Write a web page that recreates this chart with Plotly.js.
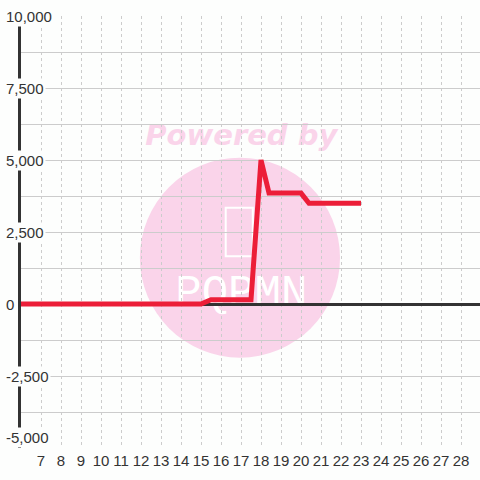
<!DOCTYPE html>
<html>
<head>
<meta charset="utf-8">
<script src="https://cdn.plot.ly/plotly-3.0.1.min.js"></script>
<style>html,body{margin:0;padding:0;background:#fdfefd;}#chart{width:480px;height:480px;}</style>
</head>
<body>
<div id="chart"></div>
<script>
// Series
const xValues = [6, 7, 8, 9, 10, 11, 12, 13, 14, 15, 15.5, 17.5, 18, 18.4, 20, 20.4, 23];
const yValues = [0, 0, 0, 0, 0, 0, 0, 0, 0, 0, 150, 150, 5000, 3850, 3850, 3500, 3500];

// Axis ticks
const xTickVals = [7, 8, 9, 10, 11, 12, 13, 14, 15, 16, 17, 18, 19, 20, 21, 22, 23, 24, 25, 26, 27, 28];
const xTickText = ["7", "8", "9", "10", "11", "12", "13", "14", "15", "16", "17", "18", "19", "20", "21", "22", "23", "24", "25", "26", "27", "28"];
const yTickVals = [10000, 7500, 5000, 2500, 0, -2500, -5000];
const yTickText = ["10,000", "7,500", "5,000", "2,500", "0", "-2,500", "-5,000"];

const BG = "#fdfefd";
const GRID = "#cccccc";
const TEXT = "#333333";
const PINK = "#fad4ea";

const trace = {
  x: xValues,
  y: yValues,
  type: "scatter",
  mode: "lines",
  line: {color: "#ec1e38", width: 5},
  hoverinfo: "skip"
};

const yMin = Math.min(...yTickVals);
const yLabelAnnotations = yTickVals.map((v, i) => ({
  xref: "paper", yref: "y", x: 0, y: v,
  xanchor: "left", yanchor: v === yMin ? "bottom" : "middle",
  xshift: -17,
  text: yTickText[i],
  showarrow: false,
  bgcolor: BG,
  borderpad: 1,
  font: {family: "Liberation Sans, Arial, sans-serif", size: 15, color: TEXT}
}));

const layout = {
  width: 480,
  height: 480,
  margin: {l: 21, r: 0, t: 16, b: 32},
  paper_bgcolor: BG,
  plot_bgcolor: BG,
  showlegend: false,
  xaxis: {
    range: [6, 28.95],
    tickmode: "array",
    tickvals: xTickVals,
    ticktext: xTickText,
    ticks: "",
    ticklabelstandoff: 2,
    showgrid: true,
    gridcolor: GRID,
    gridwidth: 1,
    griddash: "dot",
    zeroline: false,
    showline: false,
    tickfont: {family: "Liberation Sans, Arial, sans-serif", size: 15, color: TEXT}
  },
  yaxis: {
    range: [-5000, 10000],
    tickmode: "array",
    tickvals: yTickVals,
    showticklabels: false,
    ticks: "",
    showgrid: true,
    gridcolor: GRID,
    gridwidth: 1,
    minor: {tickmode: "linear", tick0: 0, dtick: 1250, showgrid: true, gridcolor: GRID, gridwidth: 1, ticks: ""},
    zeroline: true,
    zerolinecolor: "#333333",
    zerolinewidth: 3,
    showline: true,
    linecolor: "#333333",
    linewidth: 3
  },
  shapes: [
    {type: "circle", xref: "paper", yref: "paper", layer: "below",
     x0: 0.259, x1: 0.695, y0: 0.209, y1: 0.672,
     fillcolor: PINK, line: {width: 0}},
    {type: "rect", xref: "paper", yref: "paper", layer: "below",
     x0: 0.2, x1: 0.76, y0: 0.69, y1: 0.77,
     line: {width: 0}, fillcolor: "rgba(0,0,0,0)",
     label: {text: "Powered by", textposition: "middle center",
             font: {family: "DejaVu Sans, sans-serif", size: 29, color: PINK, weight: "bold", style: "italic"}}},
    {type: "rect", xref: "paper", yref: "paper", layer: "below",
     x0: 0.446, x1: 0.505, y0: 0.444, y1: 0.556,
     line: {width: 2, color: "#ffffff"}, fillcolor: "rgba(0,0,0,0)"},
    {type: "rect", xref: "paper", yref: "paper", layer: "below",
     x0: 0.3, x1: 0.66, y0: 0.33, y1: 0.42,
     line: {width: 0}, fillcolor: "rgba(0,0,0,0)",
     label: {text: "PQPMN", textposition: "middle center",
             font: {family: "Liberation Mono, monospace", size: 44, color: "#ffffff"}}}
  ],
  annotations: yLabelAnnotations
};

Plotly.newPlot("chart", [trace], layout, {staticPlot: true, displayModeBar: false});
</script>
</body>
</html>
